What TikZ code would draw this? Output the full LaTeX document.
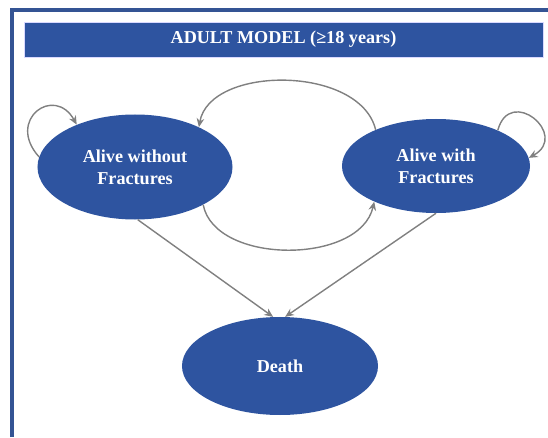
\documentclass[tikz,border=0pt]{standalone}
\usepackage{fontspec}
\setmainfont{Liberation Serif}
\usepackage{xcolor}
\usepackage{tikz}
\usetikzlibrary{positioning}
\usetikzlibrary{arrows.meta,shapes}

\definecolor{stateblue}{RGB}{46,84,160}
\definecolor{frameblue}{RGB}{52,84,148}
\definecolor{arrgray}{RGB}{128,128,128}

\begin{document}
\begin{tikzpicture}[x=0.03cm, y=0.03cm,
  state/.style={ellipse, fill=stateblue, inner sep=0pt, text=white, align=center,
                font=\fontsize{15.5}{19}\selectfont\bfseries},
  arr/.style={draw=arrgray, line width=1.2pt, -{Stealth[length=7.5pt,width=6.5pt]}}]

 \useasboundingbox (0,0) rectangle (548,437);

 % frame
 \draw[frameblue, line width=2.8pt] (12,0) -- (12,427) -- (548,427);

 \node[fill=stateblue, draw=blue!15, line width=0.6pt, minimum width=15.57cm, minimum height=1.05cm,
       text=white, font=\fontsize{15.5}{19}\selectfont\bfseries] (header) at (283.5,397.5) {ADULT MODEL (≥18 years)};

 % states
 \node[state, minimum width=5.85cm, minimum height=3.15cm] (nofrac) at (135,270) {Alive without\\Fractures};
 \node[state, minimum width=5.64cm, minimum height=2.82cm] (frac) at (436,271) {Alive with\\Fractures};
 \node[state, minimum width=5.88cm, minimum height=2.94cm] (death) at (280,71) {Death};

 % transitions
 \draw[arr] (frac.149) .. controls (360,372) and (210,372) .. (nofrac.32);
 \draw[arr] (nofrac.331) .. controls (215,172) and (360,172) .. (frac.210);

 \draw[arr] (nofrac.174) .. controls +(132:50) and +(119:46) .. (nofrac.144);
 \draw[arr] (frac.30) .. controls +(75:47) and +(29:47) .. (frac.5);

 \foreach \src/\a/\b in {nofrac/273/98, frac/270/84}
 	\draw[arr] (\src.\a) -- (death.\b);

\end{tikzpicture}
\end{document}
